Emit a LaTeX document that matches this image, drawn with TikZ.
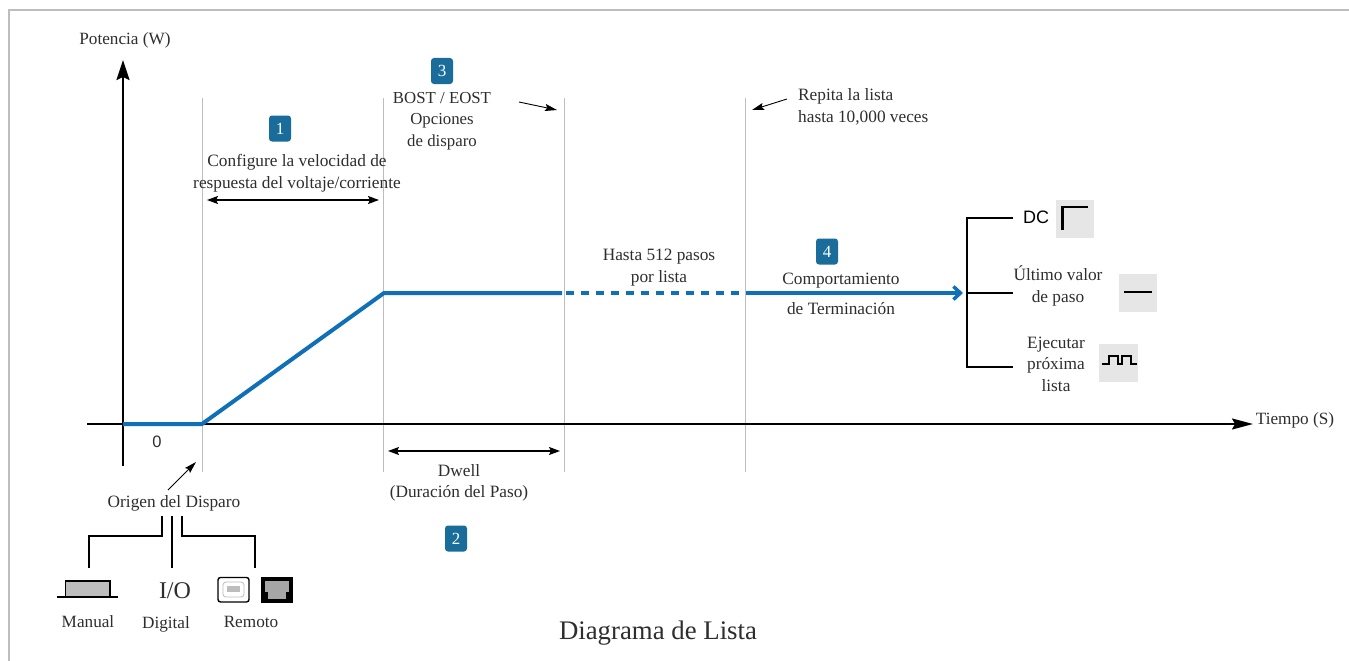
\documentclass[tikz,border=0pt]{standalone}
\usepackage{fontspec}
\setmainfont{Liberation Serif}
\newfontfamily\sansf{Liberation Sans}
\usetikzlibrary{arrows.meta}
\definecolor{tx}{HTML}{2E2E2E}
\definecolor{blu}{HTML}{0F70B7}
\definecolor{badge}{HTML}{1A6D9A}
\definecolor{guide}{HTML}{BDBDBD}
\definecolor{icon}{HTML}{E6E6E6}
\tikzset{
 lbl/.style={font=\fontsize{17.3}{21.5}\selectfont,text=tx,align=center,inner sep=0pt},
 small/.style={font=\fontsize{17.2}{21.5}\selectfont,text=tx,align=center,inner sep=0pt},
 badgebox/.style={fill=badge,rounded corners=3pt,minimum width=22pt,minimum height=26pt,inner sep=0pt,text=white,font=\fontsize{17}{17}\selectfont},
 guideline/.style={guide,line width=1pt},
 axisline/.style={black,line width=2pt},
 bracket/.style={black,line width=2.3pt},
 pointer/.style={black,line width=0.9pt,-{Stealth[length=12pt,width=7pt,inset=2pt]}},
 span/.style={black,line width=1.3pt,{Stealth[length=11pt,width=8pt,inset=2pt]}-{Stealth[length=11pt,width=8pt,inset=2pt]}},
 curve/.style={blu,line width=4pt},
 iconbox/.style={fill=icon,draw=none,minimum width=38.5pt,minimum height=38.5pt,inner sep=0pt},
}
\begin{document}
\begin{tikzpicture}[x=1pt,y=-1pt]
\useasboundingbox (0,0) rectangle (1349,661);
\fill[white] (0,0) rectangle (1349,661);
\draw[guide,line width=1.2pt] (9,661) -- (9,10) -- (1349,10);
% guides
\foreach \n/\x in {ga/202,gb/383,gc/564,gd/745}{
  \coordinate (\n t) at (\x,98);
  \coordinate (\n b) at (\x,472);
  \draw[guideline] (\n t) -- (\n b);
}
% axes
\coordinate (yb) at (123,466); \coordinate (yt) at (123,60);
\coordinate (xl) at (87,424); \coordinate (xr) at (1253,424);
\draw[axisline,-{Stealth[length=20pt,width=13pt,inset=3pt]}] (yb) -- (yt);
\draw[axisline,-{Stealth[length=21pt,width=11pt,inset=3pt]}] (xl) -- (xr);
% trace
\coordinate (p0) at (123,424); \coordinate (p1) at (202,424); \coordinate (p2) at (384,293);
\coordinate (p3) at (562,293); \coordinate (p4) at (746,293); \coordinate (p5) at (963,293);
\draw[curve,line join=round] (p0) -- (p1) -- (p2) -- (p3);
\draw[curve,dash pattern=on 7.5pt off 7.5pt] (p3) ++(4,0) -- (p4);
\draw[curve,-{Straight Barb[length=7pt,width=13pt,line width=3.5pt]}] (p4) -- (p5);
% axis labels
\node[small] (ylab) at (125,40) {Potencia (W)};
\node[small] (xlab) at (1295,420) {Tiempo (S)};
\node[font=\sansf\fontsize{16.5}{16.5}\selectfont,text=tx,inner sep=0pt] (zero) at (157,442) {0};
% badges
\node[badgebox] (b1) at (280,128.5) {1};
\node[badgebox] (b3) at (442,71) {3};
\node[badgebox] (b4) at (827,251.5) {4};
\node[badgebox] (b2) at (456,538.5) {2};
% top texts
\node[lbl] (conf) at (297,173.5) {Configure la velocidad de\\respuesta del voltaje/corriente};
\node[lbl,font=\fontsize{16.8}{21.5}\selectfont] (bost) at (442,121) {BOST / EOST\\Opciones\\de disparo};
\node[lbl,align=left,anchor=west] (rep) at (798,107) {Repita la lista\\hasta 10,000 veces};
\node[lbl] (hasta) at (659,267.5) {Hasta 512 pasos\\por lista};
\node[lbl] (comp) at (841,281) {Comportamiento};
\node[lbl] (term) at (841,309) {de Terminación};
\node[lbl] (dwell) at (459,483) {Dwell\\(Duración del Paso)};
% spans
\coordinate (sa) at (207,200); \coordinate (sb) at (379,200);
\coordinate (sc) at (388,451); \coordinate (sd) at (560,451);
\draw[span] (sa) -- (sb);
\draw[span] (sc) -- (sd);
% pointers
\coordinate (q1) at (519,102); \coordinate (q2) at (557,110);
\coordinate (q3) at (787,99); \coordinate (q4) at (752,110);
\coordinate (q5) at (168,490); \coordinate (q6) at (196,462);
\draw[pointer] (q1) -- (q2);
\draw[pointer] (q3) -- (q4);
\draw[pointer] (q5) -- (q6);
% trigger
\node[lbl] (orig) at (174,503.5) {Origen del Disparo};
\coordinate (t1) at (162,516); \coordinate (t2) at (172,516); \coordinate (t3) at (182,516);
\coordinate (m1) at (89,568); \coordinate (m2) at (172,568); \coordinate (m3) at (255,568);
\draw[bracket] (t1) -- (162,536) -- (89,536) -- (m1);
\draw[bracket] (t2) -- (m2);
\draw[bracket] (t3) -- (182,536) -- (255,536) -- (m3);
% manual icon
\draw[black,line width=1.8pt,fill=guide] (65.5,597) -- (65.5,581) -- (110,581) -- (110,597);
\draw[black,line width=1.8pt] (57,597) -- (118,597);
\node[font=\fontsize{24}{24}\selectfont,text=tx,inner sep=0pt] (io) at (175,591) {I/O};
% usb icon
\draw[black,line width=1.4pt,fill=white,rounded corners=2.5pt] (218,577.5) rectangle (249,602);
\draw[guide,line width=0.8pt,fill=white,rounded corners=3pt] (223,582) rectangle (244,597);
\fill[guide] (227,586) rectangle (240,592);
% ethernet icon
\fill[black] (261,577) rectangle (293,603);
\fill[gray!70] (265,581) rectangle (289,592);
\fill[gray!70] (268,592) rectangle (286,599);
% trigger labels
\node[small] (lman) at (88,622) {Manual};
\node[small] (ldig) at (166,624) {Digital};
\node[small] (lrem) at (251,622) {Remoto};
\node[font=\fontsize{26.8}{26.8}\selectfont,text=tx,inner sep=0pt] (title) at (658,633) {Diagrama de Lista};
% termination bracket
\coordinate (e1) at (1013,218); \coordinate (e2) at (1013,293); \coordinate (e3) at (1013,367);
\draw[bracket] (e1) -- (967,218) -- (967,367) -- (e3);
\draw[bracket] (967,293) -- (e2);
\node[font=\sansf\fontsize{18}{18}\selectfont,text=black,inner sep=0pt] (dc) at (1036,217) {DC};
\node[lbl] (ult) at (1058,286) {Último valor\\de paso};
\node[lbl] (eje) at (1056,364) {Ejecutar\\próxima\\lista};
\node[iconbox] (idc) at (1075,219) {};
\node[iconbox] (iul) at (1138,293) {};
\node[iconbox] (iej) at (1118.5,363) {};
\draw[black,line width=2.4pt] (1062.5,230) -- (1062.5,207) -- (1088,207);
\draw[black,line width=2.2pt] (1124,292) -- (1152,292);
\draw[black,line width=1.8pt] (1102,364) -- (1109,364) -- (1109,356) -- (1118,356) -- (1118,364) -- (1122,364) -- (1122,356) -- (1131,356) -- (1131,364) -- (1137,364);
\end{tikzpicture}
\end{document}
